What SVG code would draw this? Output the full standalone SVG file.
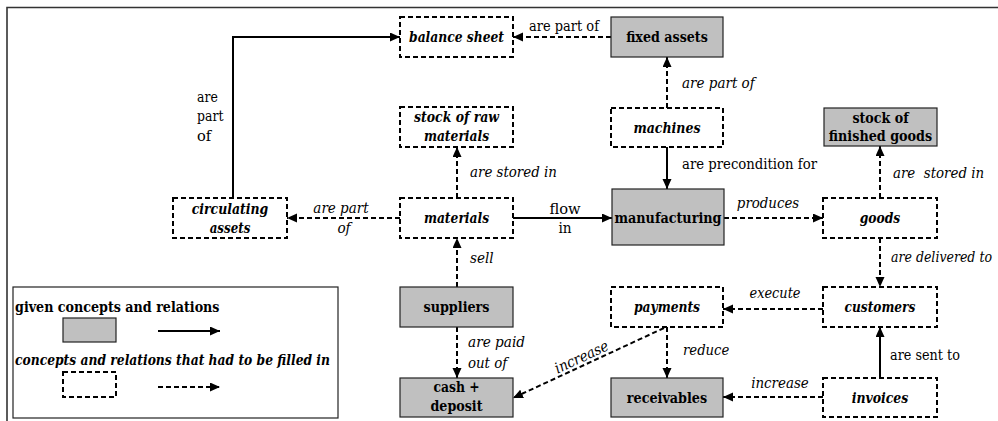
<svg xmlns="http://www.w3.org/2000/svg" width="998" height="421" viewBox="0 0 998 421" font-family="DejaVu Serif, Liberation Serif, serif" font-size="15">
<defs>
<marker id="ah" markerUnits="userSpaceOnUse" markerWidth="11" markerHeight="10" refX="10" refY="4.5" orient="auto">
<path d="M0,0 L10,4.5 L0,9 z" fill="#000"/>
</marker>
<style>
text{fill:#000}
.b{font-weight:bold}
.bi{font-weight:bold;font-style:italic}
.i{font-style:italic}
.g{fill:#c0c0c0;stroke:#222;stroke-width:1.2}
.d{fill:#fff;stroke:#000;stroke-width:2;stroke-dasharray:5,3}
.sl{fill:none;stroke:#000;stroke-width:2;marker-end:url(#ah)}
.dl{fill:none;stroke:#000;stroke-width:2;stroke-dasharray:5,3;marker-end:url(#ah)}
</style>
</defs>
<rect width="998" height="421" fill="#fff"/>
<path d="M7,421 L7,7.5 L998,7.5" fill="none" stroke="#333" stroke-width="1.6"/>

<g id="connectors">
<path class="sl" d="M233,198 L233,37 L400,37"/>
<path class="dl" d="M611,37 L513,37"/>
<path class="dl" d="M667,108 L667,57"/>
<path class="dl" d="M457,198 L457,147"/>
<path class="sl" d="M667,147 L667,189"/>
<path class="dl" d="M400,218 L287,218"/>
<path class="sl" d="M513,218 L612,218"/>
<path class="dl" d="M724,218 L823,218"/>
<path class="dl" d="M880,198 L880,146"/>
<path class="dl" d="M880,238 L880,287"/>
<path class="dl" d="M457,287 L457,238"/>
<path class="dl" d="M457,327 L457,378"/>
<path class="dl" d="M823,309 L723,309"/>
<path class="dl" d="M667,327 L667,378"/>
<path class="dl" d="M664,328 L513,398"/>
<path class="sl" d="M880,378 L880,327"/>
<path class="dl" d="M823,397 L723,397"/>
<g id="labels">
<text x="197" y="102" textLength="20.8" lengthAdjust="spacingAndGlyphs">are</text>
<text x="197" y="121" textLength="26.4" lengthAdjust="spacingAndGlyphs">part</text>
<text x="197" y="141" textLength="14.2" lengthAdjust="spacingAndGlyphs">of</text>
<text x="529" y="31" textLength="70" lengthAdjust="spacingAndGlyphs">are part of</text>
<text class="i" x="682" y="88" textLength="72.7" lengthAdjust="spacingAndGlyphs">are part of</text>
<text class="i" x="470" y="177" textLength="86.9" lengthAdjust="spacingAndGlyphs">are stored in</text>
<text x="682" y="169" textLength="135" lengthAdjust="spacingAndGlyphs">are precondition for</text>
<text class="i" x="341" y="213" text-anchor="middle" textLength="55.3" lengthAdjust="spacingAndGlyphs">are part</text>
<text class="i" x="344" y="233" text-anchor="middle" textLength="13.2" lengthAdjust="spacingAndGlyphs">of</text>
<text x="565" y="214" text-anchor="middle" textLength="31.2" lengthAdjust="spacingAndGlyphs">flow</text>
<text x="565" y="233" text-anchor="middle" textLength="13.2" lengthAdjust="spacingAndGlyphs">in</text>
<text class="i" x="768" y="208" text-anchor="middle" textLength="62.3" lengthAdjust="spacingAndGlyphs">produces</text>
<text class="i" x="893" y="178" xml:space="preserve" textLength="91.1" lengthAdjust="spacingAndGlyphs">are  stored in</text>
<text class="i" x="891" y="262" textLength="101" lengthAdjust="spacingAndGlyphs">are delivered to</text>
<text class="i" x="470" y="263" textLength="23.6" lengthAdjust="spacingAndGlyphs">sell</text>
<text class="i" x="468" y="347" textLength="57.1" lengthAdjust="spacingAndGlyphs">are paid</text>
<text class="i" x="468" y="368" textLength="39.2" lengthAdjust="spacingAndGlyphs">out of</text>
<text class="i" x="775" y="298" text-anchor="middle" textLength="51" lengthAdjust="spacingAndGlyphs">execute</text>
<text class="i" x="683" y="355" textLength="46.3" lengthAdjust="spacingAndGlyphs">reduce</text>
<text class="i" text-anchor="middle" transform="translate(582,358) rotate(-24.9)" x="0" y="4" textLength="57.6" lengthAdjust="spacingAndGlyphs">increase</text>
<text x="890" y="360" textLength="69.9" lengthAdjust="spacingAndGlyphs">are sent to</text>
<text class="i" x="780" y="388" text-anchor="middle" textLength="57.6" lengthAdjust="spacingAndGlyphs">increase</text>
</g>
</g>

<g id="balance-sheet"><rect class="d" x="400" y="17" width="113" height="40"/><text class="bi" x="456.5" y="42" text-anchor="middle" textLength="94.9" lengthAdjust="spacingAndGlyphs">balance sheet</text></g>
<g id="fixed-assets"><rect class="g" x="611" y="17" width="112" height="40"/><text class="b" x="667" y="42" text-anchor="middle" textLength="81.7" lengthAdjust="spacingAndGlyphs">fixed assets</text></g>
<g id="stock-raw"><rect class="d" x="400" y="107" width="113" height="40"/><text class="bi" x="456.5" y="122" text-anchor="middle" textLength="85" lengthAdjust="spacingAndGlyphs">stock of raw</text><text class="bi" x="456.5" y="141" text-anchor="middle" textLength="65.2" lengthAdjust="spacingAndGlyphs">materials</text></g>
<g id="machines"><rect class="d" x="611" y="108" width="112" height="39"/><text class="bi" x="667" y="133" text-anchor="middle" textLength="67.1" lengthAdjust="spacingAndGlyphs">machines</text></g>
<g id="stock-finished"><rect class="g" x="824" y="108" width="113" height="38"/><text class="b" x="880.5" y="123" text-anchor="middle" textLength="56.2" lengthAdjust="spacingAndGlyphs">stock of</text><text class="b" x="880.5" y="141" text-anchor="middle" textLength="103.4" lengthAdjust="spacingAndGlyphs">finished goods</text></g>
<g id="circulating-assets"><rect class="d" x="173" y="198" width="114" height="40"/><text class="bi" x="230" y="214" text-anchor="middle" textLength="76.5" lengthAdjust="spacingAndGlyphs">circulating</text><text class="bi" x="230" y="233" text-anchor="middle" textLength="40.6" lengthAdjust="spacingAndGlyphs">assets</text></g>
<g id="materials"><rect class="d" x="400" y="198" width="113" height="40"/><text class="bi" x="456.5" y="223" text-anchor="middle" textLength="65.2" lengthAdjust="spacingAndGlyphs">materials</text></g>
<g id="manufacturing"><rect class="g" x="612" y="189" width="112" height="56"/><text class="b" x="668" y="223" text-anchor="middle" textLength="107" lengthAdjust="spacingAndGlyphs">manufacturing</text></g>
<g id="goods"><rect class="d" x="823" y="198" width="114" height="40"/><text class="bi" x="880" y="223" text-anchor="middle" textLength="40.6" lengthAdjust="spacingAndGlyphs">goods</text></g>
<g id="suppliers"><rect class="g" x="400" y="287" width="113" height="40"/><text class="b" x="456.5" y="312" text-anchor="middle" textLength="66.1" lengthAdjust="spacingAndGlyphs">suppliers</text></g>
<g id="payments"><rect class="d" x="611" y="287" width="112" height="40"/><text class="bi" x="667" y="312" text-anchor="middle" textLength="66.1" lengthAdjust="spacingAndGlyphs">payments</text></g>
<g id="customers"><rect class="d" x="823" y="287" width="114" height="40"/><text class="bi" x="880" y="312" text-anchor="middle" textLength="70.8" lengthAdjust="spacingAndGlyphs">customers</text></g>
<g id="cash-deposit"><rect class="g" x="400" y="378" width="113" height="39"/><text class="b" x="456.5" y="392" text-anchor="middle" textLength="46.1" lengthAdjust="spacingAndGlyphs">cash +</text><text class="b" x="456.5" y="411" text-anchor="middle" textLength="52" lengthAdjust="spacingAndGlyphs">deposit</text></g>
<g id="receivables"><rect class="g" x="611" y="378" width="112" height="39"/><text class="b" x="667" y="403" text-anchor="middle" textLength="80.3" lengthAdjust="spacingAndGlyphs">receivables</text></g>
<g id="invoices"><rect class="d" x="823" y="378" width="114" height="39"/><text class="bi" x="880" y="403" text-anchor="middle" textLength="56.7" lengthAdjust="spacingAndGlyphs">invoices</text></g>

<g id="legend">
<rect x="13" y="287" width="325" height="131" fill="#fff" stroke="#222" stroke-width="1.2"/>
<text class="b" x="15" y="312" textLength="204.5" lengthAdjust="spacingAndGlyphs">given concepts and relations</text>
<rect class="g" x="63" y="318" width="53" height="24"/>
<path class="sl" d="M158,331 L220,331"/>
<text class="bi" x="15" y="365" textLength="315" lengthAdjust="spacingAndGlyphs">concepts and relations that had to be filled in</text>
<rect class="d" x="63" y="372" width="53" height="25"/>
<path class="dl" d="M158,387 L220,387"/>
</g>
</svg>
